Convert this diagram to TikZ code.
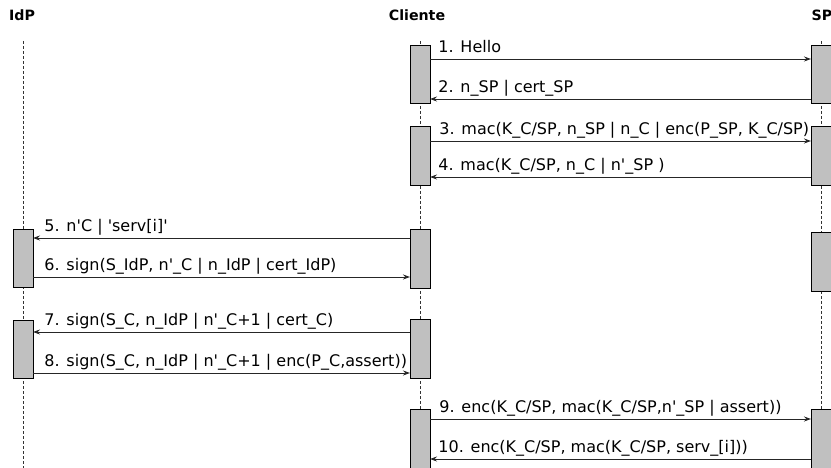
\documentclass[tikz,border=0pt]{standalone}
\usepackage{fontspec}
\setmainfont{DejaVu Sans}
\usetikzlibrary{arrows.meta}
\definecolor{actfill}{HTML}{C0C0C0}
\newcommand{\sq}{\textquotesingle}
\tikzset{
  act/.style={draw=black, line width=0.8pt, fill=actfill, minimum width=20pt, inner sep=0pt, outer sep=0pt},
  life/.style={draw=black!80, line width=0.6pt, dash pattern=on 3pt off 2pt},
  msg/.style={draw=black!85, line width=0.9pt, -{Stealth[length=7pt,width=5pt]}},
  lbl/.style={font=\fontsize{16}{18}\selectfont, inner sep=0pt, anchor=base west},
  hdr/.style={font=\fontsize{14.2}{16}\selectfont\bfseries, inner sep=0pt, anchor=base},
}
\begin{document}
\begin{tikzpicture}[x=1pt,y=-1pt]
\useasboundingbox (0,0) rectangle (831,468);
% headers
\node[hdr] (hI) at (22,21) {IdP};
\node[hdr] (hC) at (417,21) {Cliente};
\node[hdr] (hS) at (822,21) {SP};
% lifelines
\coordinate (lI0) at (23,41); \coordinate (lI1) at (23,470);
\coordinate (lC0) at (420,41); \coordinate (lC1) at (420,470);
\coordinate (lS0) at (821,41); \coordinate (lS1) at (821,470);
\draw[life] (lI0) -- (lI1);
\draw[life] (lC0) -- (lC1);
\draw[life] (lS0) -- (lS1);
% activation boxes
\node[act, minimum height=58pt] (i1) at (23,258) {};
\node[act, minimum height=58pt] (i2) at (23,349) {};
\node[act, minimum height=58pt] (c1) at (420,74) {};
\node[act, minimum height=59pt] (c2) at (420,155.5) {};
\node[act, minimum height=59pt] (c3) at (420,258.5) {};
\node[act, minimum height=59pt] (c4) at (420,348.5) {};
\node[act, minimum height=70pt] (c5) at (420,444) {};
\node[act, minimum height=58pt] (s1) at (821,74) {};
\node[act, minimum height=59pt] (s2) at (821,155.5) {};
\node[act, minimum height=59pt] (s3) at (821,261.5) {};
\node[act, minimum height=70pt] (s4) at (821,444) {};
% messages
\draw[msg] (c1.east|-0,59) -- node[lbl,pos=0,xshift=8pt,yshift=6.5pt]{1. Hello} (s1.west|-0,59);
\draw[msg] (s1.west|-0,99) -- node[lbl,pos=1,xshift=8pt,yshift=6.5pt]{2. n\_SP | cert\_SP} (c1.east|-0,99);
\draw[msg] (c2.east|-0,141) -- node[lbl,pos=0,xshift=9pt,yshift=6.5pt]{3. mac(K\_C/SP, n\_SP | n\_C | enc(P\_SP, K\_C/SP)} (s2.west|-0,141);
\draw[msg] (s2.west|-0,177) -- node[lbl,pos=1,xshift=8pt,yshift=6.5pt]{4. mac(K\_C/SP, n\_C | n\sq\_SP )} (c2.east|-0,177);
\draw[msg] (c3.west|-0,238) -- node[lbl,pos=1,xshift=11pt,yshift=6.5pt]{5. n\sq C | \sq serv[i]\sq} (i1.east|-0,238);
\draw[msg] (i1.east|-0,277) -- node[lbl,pos=0,xshift=11pt,yshift=6.5pt]{6. sign(S\_IdP, n\sq\_C | n\_IdP | cert\_IdP)} (c3.west|-0,277);
\draw[msg] (c4.west|-0,332) -- node[lbl,pos=1,xshift=11pt,yshift=6.5pt]{7. sign(S\_C, n\_IdP | n\sq\_C+1 | cert\_C)} (i2.east|-0,332);
\draw[msg] (i2.east|-0,373) -- node[lbl,pos=0,xshift=11pt,yshift=6.5pt]{8. sign(S\_C, n\_IdP | n\sq\_C+1 | enc(P\_C,assert))} (c4.west|-0,373);
\draw[msg] (c5.east|-0,419) -- node[lbl,pos=0,xshift=9pt,yshift=6.5pt]{9. enc(K\_C/SP, mac(K\_C/SP,n\sq\_SP | assert))} (s4.west|-0,419);
\draw[msg] (s4.west|-0,459) -- node[lbl,pos=1,xshift=8pt,yshift=6.5pt]{10. enc(K\_C/SP, mac(K\_C/SP, serv\_[i]))} (c5.east|-0,459);
\end{tikzpicture}
\end{document}
